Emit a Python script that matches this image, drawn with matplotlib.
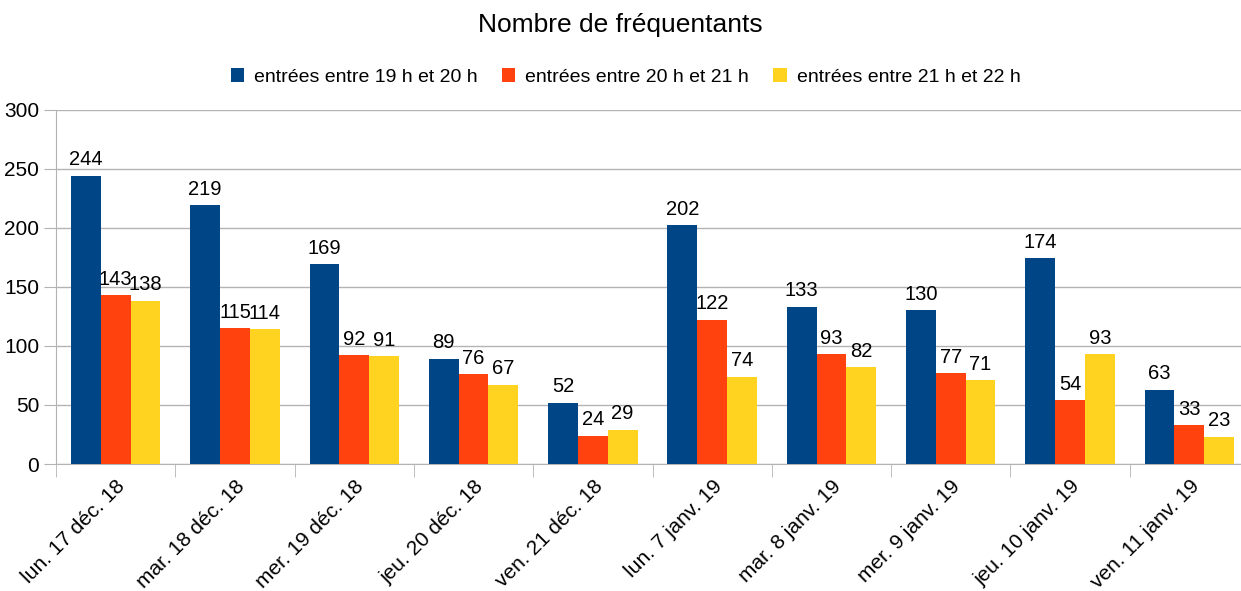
import matplotlib
matplotlib.use("Agg")
import matplotlib.pyplot as plt
import numpy as np

plt.rcParams['font.family'] = ['Liberation Sans', 'DejaVu Sans']

categories = ["lun. 17 déc. 18", "mar. 18 déc. 18", "mer. 19 déc. 18", "jeu. 20 déc. 18",
              "ven. 21 déc. 18", "lun. 7 janv. 19", "mar. 8 janv. 19", "mer. 9 janv. 19",
              "jeu. 10 janv. 19", "ven. 11 janv. 19"]
series_names = ["entrées entre 19 h et 20 h", "entrées entre 20 h et 21 h", "entrées entre 21 h et 22 h"]
s19 = [244, 219, 169, 89, 52, 202, 133, 130, 174, 63]
s20 = [143, 115, 92, 76, 24, 122, 93, 77, 54, 33]
s21 = [138, 114, 91, 67, 29, 74, 82, 71, 93, 23]
colors = ["#004586", "#ff420e", "#ffd320"]
title = "Nombre de fréquentants"

fig = plt.figure(figsize=(12.41, 5.91), dpi=100)
ax = fig.add_axes([56 / 1241, 1 - 464 / 591, (1249 - 56) / 1241, (464 - 109.5) / 591])

x = np.arange(len(categories))
w = 0.25
for i, (vals, name, c) in enumerate(zip([s19, s20, s21], series_names, colors)):
    pos = x + (i - 1) * w
    ax.bar(pos, vals, width=w, color=c, label=name, zorder=3)
    for xp, v in zip(pos, vals):
        ax.text(xp, v + 5.5, str(v), ha='center', va='bottom', fontsize=14.5, color='#000000', zorder=4)

ax.set_xlim(-0.5, len(categories) - 0.5)
ax.set_ylim(0, 300)
ax.set_yticks(range(0, 301, 50))
ax.tick_params(axis='y', labelsize=15, length=9, color='#b3b3b3', pad=3)
ax.yaxis.grid(True, color='#b3b3b3', linewidth=1, zorder=0)

ax.set_xticks(x)
ax.set_xticklabels(categories, rotation=45, ha='right', rotation_mode='anchor', fontsize=15)
ax.tick_params(axis='x', length=0, pad=9)
ax.set_xticks(np.arange(-0.5, len(categories), 1), minor=True)
ax.tick_params(axis='x', which='minor', length=9, color='#b3b3b3')

for s in ['top', 'right']:
    ax.spines[s].set_visible(False)
for s in ['left', 'bottom']:
    ax.spines[s].set_color('#b3b3b3')

fig.text(0.5, 1 - 25 / 591, title, ha='center', va='center', fontsize=19)
fig.legend(loc='center', bbox_to_anchor=(0.504, 1 - 77 / 591), ncol=3, frameon=False, fontsize=14,
           handlelength=0.7, handleheight=0.7, handletextpad=0.5, columnspacing=1.25)

fig.savefig("out.png", dpi=100)
